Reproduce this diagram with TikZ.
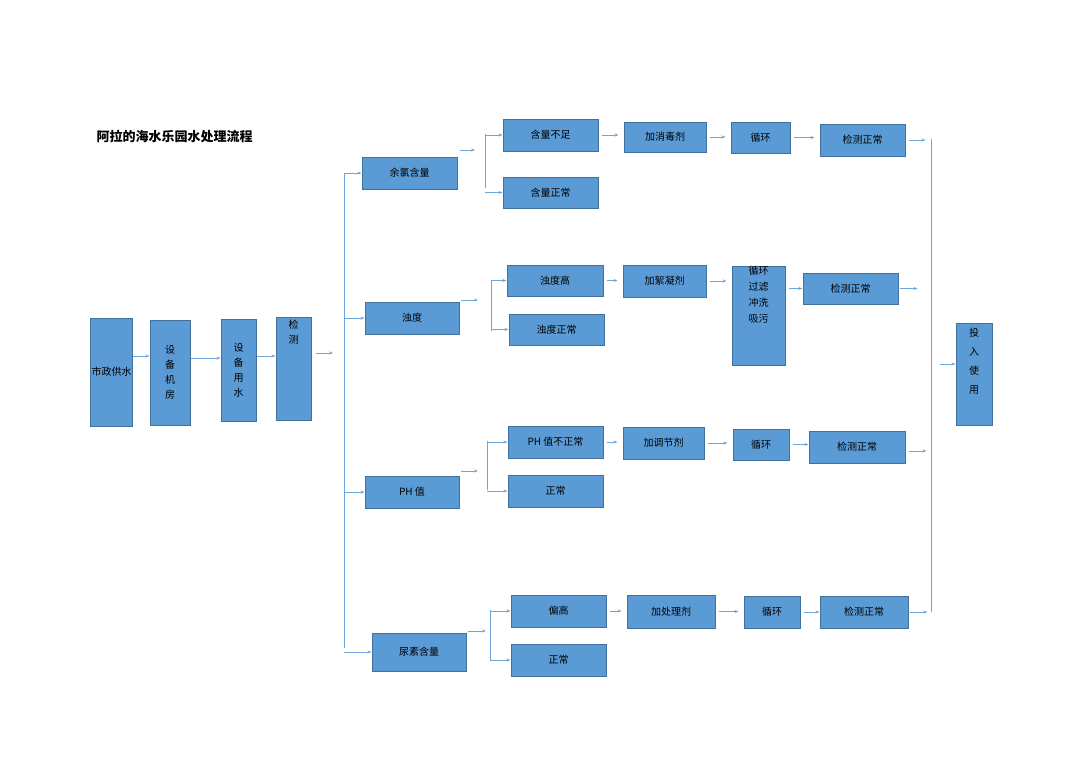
\documentclass[tikz,border=0pt]{standalone}
\usepackage{fontspec}
\newfontfamily\cjk{Noto Sans CJK SC}
\usetikzlibrary{arrows.meta}
\definecolor{boxfill}{HTML}{5B9BD5}
\definecolor{boxline}{HTML}{41719C}
\definecolor{arrline}{HTML}{6FA5D9}
\tikzset{
  box/.style={draw=boxline, line width=1pt, fill=boxfill, font=\cjk\fontsize{10}{12}\selectfont, inner sep=1pt},
  vbox/.style={box, align=center, anchor=north, font=\cjk\fontsize{10}{15}\selectfont},
  arr/.style={draw=arrline, line width=0.8pt, -{Stealth[length=4pt,width=3pt]}},
  bus/.style={draw=arrline, line width=0.8pt}
}
\begin{document}
\begin{tikzpicture}[x=1pt,y=-1pt]
  \useasboundingbox (0,0) rectangle (1080,763);
  \node[anchor=west, font=\cjk\bfseries\fontsize{13}{15}\selectfont] (title) at (93,136) {阿拉的海水乐园水处理流程};
  % main line
  \node[box, minimum width=35, minimum height=108] (src) at (111.5,372) {市\\[2pt]政\\[2pt]供\\[2pt]水};
  \node[box, align=center, minimum width=40, minimum height=105, font=\cjk\fontsize{10}{15}\selectfont] (room) at (170,372.5) {设\\备\\机\\房};
  \node[box, align=center, minimum width=35, minimum height=102, font=\cjk\fontsize{10}{15}\selectfont] (use) at (238.5,370) {设\\备\\用\\水};
  \node[box, minimum width=35, minimum height=103] (chk) at (293.5,368.5) {};
  \node[font=\cjk\fontsize{10}{15}\selectfont, align=center, anchor=north] at (chk.north) {检\\测};
  \draw[arr] (src.east |- 0,356) -- (room.west |- 0,356);
  \draw[arr] (room.east |- 0,358) -- (use.west |- 0,358);
  \draw[arr] (use.east |- 0,356) -- (chk.west |- 0,356);
  % branches
  \node[box, minimum width=95, minimum height=32] (cl) at (409.5,173) {余氯含量};
  \node[box, minimum width=94, minimum height=32] (tb) at (412,318) {浊度};
  \node[box, minimum width=94, minimum height=32] (ph) at (412,492) {PH 值};
  \node[box, minimum width=94, minimum height=38] (ur) at (419,652) {尿素含量};
  \coordinate (busin) at (333,353);
  \draw[arr] ([xshift=4]chk.east |- busin) -- (busin);
  \draw[bus] (344,173) -- (344,648);
  \foreach \n in {cl,tb,ph,ur}
    \draw[arr] (344,0 |- \n.west) -- (\n.west);
  % chlorine row
  \node[box, minimum width=95, minimum height=32] (cllow) at (550.5,135) {含量不足};
  \node[box, minimum width=95, minimum height=31] (clok) at (550.5,192.5) {含量正常};
  \node[box, minimum width=82, minimum height=30] (clad) at (665,137) {加消毒剂};
  \node[box, minimum width=59, minimum height=31] (clcy) at (760.5,137.5) {循环};
  \node[box, minimum width=85, minimum height=32] (clck) at (862.5,140) {检测正常};
  \draw[arr] (460,150) -- (475,150);
  \draw[bus] (485,134) -- (485,188);
  \draw[arr] (485,0 |- cllow.west) -- (cllow.west);
  \draw[arr] (485,0 |- clok.west) -- (clok.west);
  \draw[arr] ([xshift=3]cllow.east) -- ([xshift=-5]cllow.east -| clad.west);
  \draw[arr] ([xshift=3]clad.east) -- ([xshift=-5]clad.east -| clcy.west);
  \draw[arr] ([xshift=3]clcy.east) -- ([xshift=-5]clcy.east -| clck.west);
  \draw[arr] ([xshift=3]clck.east) -- ++(17,0);
  % turbidity row
  \node[box, minimum width=96, minimum height=31] (tbhi) at (555,280.5) {浊度高};
  \node[box, minimum width=95, minimum height=31] (tbok) at (556.5,329.5) {浊度正常};
  \node[box, minimum width=83, minimum height=32] (tbad) at (664.5,281) {加絮凝剂};
  \node[box, minimum width=53, minimum height=99] (tbcy) at (758.5,315.5) {};
  \node[font=\cjk\fontsize{10}{16}\selectfont, align=center, anchor=north] at ([yshift=3]tbcy.north) {循环\\过滤\\冲洗\\吸污};
  \node[box, minimum width=95, minimum height=31] (tbck) at (850.5,288.5) {检测正常};
  \draw[arr] (461,300) -- (478,300);
  \draw[bus] (491,280) -- (491,331);
  \draw[arr] (491,0 |- tbhi.west) -- (tbhi.west);
  \draw[arr] (491,0 |- tbok.west) -- (tbok.west);
  \draw[arr] ([xshift=3]tbhi.east) -- ([xshift=-5]tbhi.east -| tbad.west);
  \draw[arr] ([xshift=3]tbad.east) -- ([xshift=-5]tbad.east -| tbcy.west);
  \draw[arr] ([xshift=3]tbcy.east |- tbck.west) -- (tbck.west);
  \draw[arr] ([xshift=1]tbck.east) -- ++(18,0);
  % pH row
  \node[box, minimum width=95, minimum height=32] (phbad) at (555.5,442) {PH 值不正常};
  \node[box, minimum width=95, minimum height=32] (phok) at (555.5,491) {正常};
  \node[box, minimum width=81, minimum height=32] (phad) at (663.5,443) {加调节剂};
  \node[box, minimum width=56, minimum height=31] (phcy) at (761,444.5) {循环};
  \node[box, minimum width=96, minimum height=32] (phck) at (857,447) {检测正常};
  \draw[arr] (461,471) -- (478,471);
  \draw[bus] (487,441) -- (487,490);
  \draw[arr] (487,0 |- phbad.west) -- (phbad.west);
  \draw[arr] (487,0 |- phok.west) -- (phok.west);
  \draw[arr] ([xshift=3]phbad.east) -- ([xshift=-5]phbad.east -| phad.west);
  \draw[arr] ([xshift=3]phad.east) -- ([xshift=-5]phad.east -| phcy.west);
  \draw[arr] ([xshift=3]phcy.east) -- (phcy.east -| phck.west);
  \draw[arr] ([xshift=3,yshift=-4]phck.east) -- ++(18,0);
  % urea row
  \node[box, minimum width=95, minimum height=32] (urhi) at (558.5,611) {偏高};
  \node[box, minimum width=95, minimum height=32] (urok) at (558.5,660) {正常};
  \node[box, minimum width=88, minimum height=33] (urad) at (671,611.5) {加处理剂};
  \node[box, minimum width=56, minimum height=32] (urcy) at (772,612) {循环};
  \node[box, minimum width=88, minimum height=32] (urck) at (864,612) {检测正常};
  \draw[arr] (468,631) -- (486,631);
  \draw[bus] (490,610) -- (490,661);
  \draw[arr] (490,0 |- urhi.west) -- (urhi.west);
  \draw[arr] (490,0 |- urok.west) -- (urok.west);
  \draw[arr] ([xshift=3]urhi.east) -- ([xshift=-5]urhi.east -| urad.west);
  \draw[arr] ([xshift=3]urad.east) -- ([xshift=-5]urad.east -| urcy.west);
  \draw[arr] ([xshift=3]urcy.east) -- (urcy.east -| urck.west);
  \draw[arr] ([xshift=1]urck.east) -- ++(18,0);
  % output
  \node[box, minimum width=36, minimum height=102] (out) at (974,374) {};
  \node[font=\cjk\fontsize{10}{19}\selectfont, align=center, anchor=north] at ([yshift=-2]out.north) {投\\入\\使\\用};
  \draw[bus] (931,139) -- (931,612);
  \draw[arr] (940,364) -- (out.west |- 0,364);
\end{tikzpicture}
\end{document}
